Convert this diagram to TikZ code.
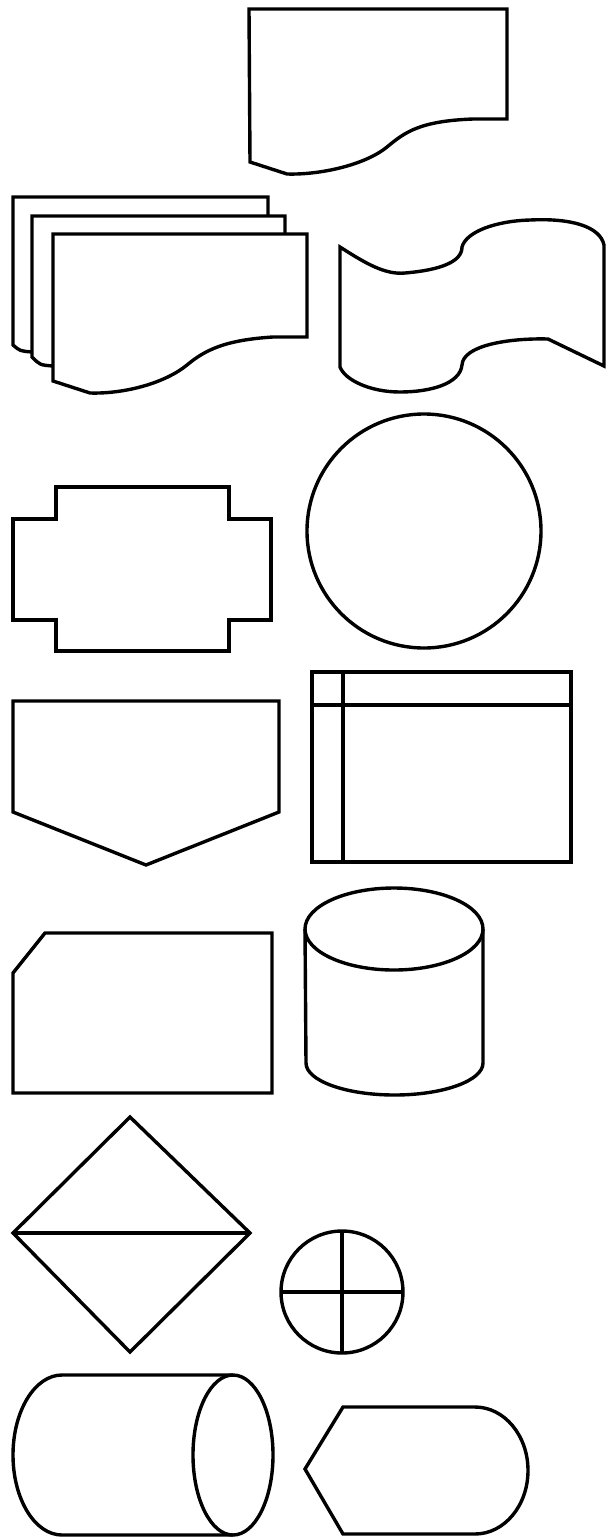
\documentclass[tikz,border=0pt]{standalone}
\usepackage{tikz}
\usetikzlibrary{calc}

\begin{document}
\begin{tikzpicture}[x=1pt, y=-1pt, flow/.style={line width=3.4pt}]
		% Picture frame (pixel grid, y pointing down)
		\useasboundingbox (0,0) rectangle (611,1540);
		
		% Define centres of the round symbols
		\coordinate (connector) at (424,531);
		\coordinate (junction) at (342,1292);
		\def\rJunction{61}
		
		% Document
		\draw[flow] (249,9) -- (507,9) -- (507,119) -- (473,119)
			.. controls (420,121) and (405,132) .. (387,147)
			.. controls (365,165) and (320,175) .. (287,174) -- (250,162) -- cycle;
		
		% Multiple documents (two sheets behind, one in front)
		\draw[flow] (32,352) .. controls (20,351) .. (13,345) -- (13,197) -- (268,197) -- (268,216);
		\draw[flow] (53,366) .. controls (40,365) .. (32,357) -- (32,216) -- (285,216) -- (285,234);
		\draw[flow] (53,234) -- (307,234) -- (307,337) -- (273,337)
			.. controls (225,340) and (205,350) .. (187,365)
			.. controls (165,383) and (125,394) .. (90,393) -- (53,381) -- cycle;
		
		% Punched tape
		\draw[flow] (340,247) .. controls (365,263) and (385,275) .. (405,273)
			.. controls (440,270) and (462,262) .. (462,247)
			.. controls (466,232) and (495,221) .. (530,220)
			.. controls (570,218) and (600,226) .. (604,245) -- (604,366) -- (548,339)
			.. controls (510,338) and (463,345) .. (462,365)
			.. controls (460,384) and (430,392) .. (400,392)
			.. controls (370,392) and (345,380) .. (340,367) -- cycle;
		
		% Preparation-like plaque
		\draw[flow] (56,487) -- (229,487) -- (229,519) -- (271,519) -- (271,620) -- (229,620)
			-- (229,651) -- (56,651) -- (56,620) -- (13,620) -- (13,519) -- (56,519) -- cycle;
		
		% Connector
		\draw[flow] (connector) circle[radius=117];
		
		% Off-page connector
		\draw[flow] (13,701) -- (279,701) -- (279,812) -- (146,865) -- (13,812) -- cycle;
		
		% Internal storage
		\draw[flow] (312,672) rectangle (571,862);
		\draw[flow] (343,672) -- (343,862);
		\draw[flow] (312,705) -- (571,705);
		
		% Card
		\draw[flow] (13,973) -- (45,933) -- (272,933) -- (272,1093) -- (13,1093) -- cycle;
		
		% Stored data (vertical cylinder)
		\draw[flow] (305,929) -- (306,1063) arc[start angle=180, end angle=0, x radius=88.5, y radius=32] -- (483,929);
		\draw[flow] (394,929) ellipse[x radius=89, y radius=41];
		
		% Sort
		\draw[flow] (130,1117) -- (250,1233) -- (130,1352) -- (13,1233) -- cycle;
		\draw[flow] (13,1233) -- (250,1233);
		
		% Summing junction
		\draw[flow] (junction) circle[radius=\rJunction];
		\draw[flow] ($(junction)+(-\rJunction,0)$) -- ($(junction)+(\rJunction,0)$);
		\draw[flow] ($(junction)+(0,-\rJunction)$) -- ($(junction)+(0,\rJunction)$);
		
		% Direct access storage
		\draw[flow] (233,1375) -- (62,1375) arc[start angle=270, end angle=90, x radius=49, y radius=80] -- (233,1535);
		\draw[flow] (233,1455) ellipse[x radius=40, y radius=80];
		
		% Display
		\draw[flow] (305,1469) -- (343,1407) -- (475,1407)
			arc[start angle=270, end angle=450, x radius=53, y radius=63.5] -- (343,1534) -- cycle;
		
	\end{tikzpicture}
\end{document}
